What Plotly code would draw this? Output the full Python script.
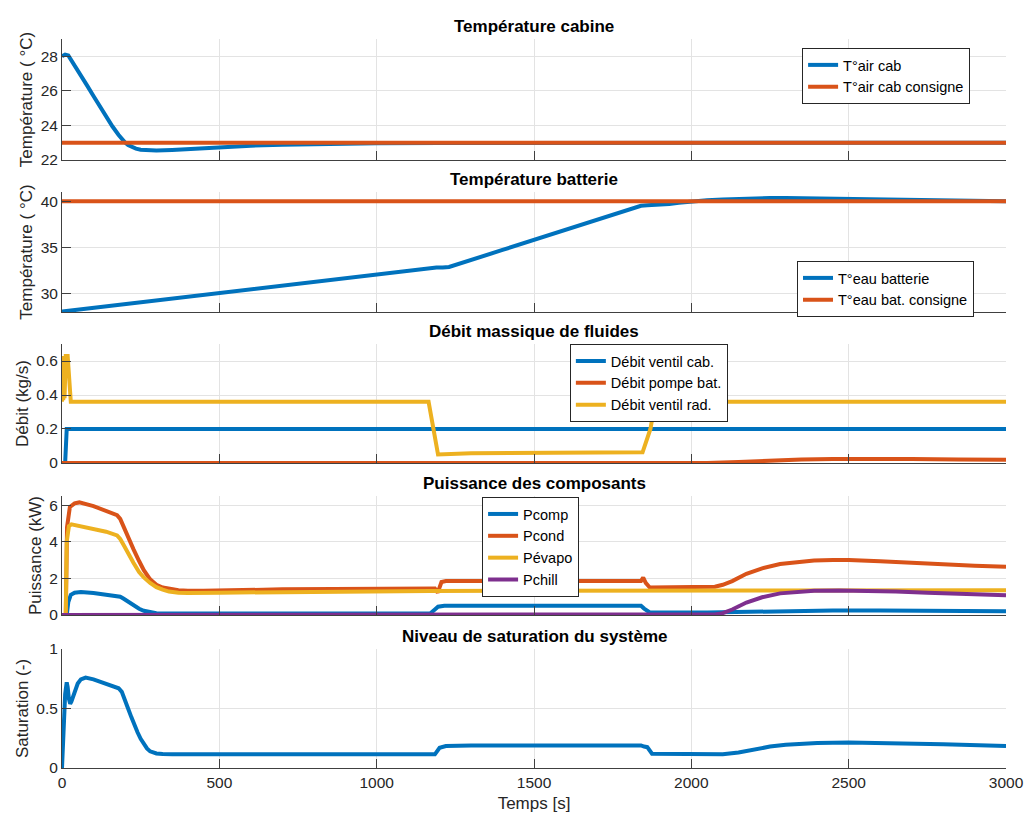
import plotly.graph_objects as go

# ---------------- DATA ----------------
# Panel 1 : Température cabine
t_cab = [0, 10, 20, 40, 60, 80, 100, 120, 140, 160, 180, 190, 200, 210, 220, 235, 250, 270, 300, 350, 400, 500, 600, 700, 800, 1000, 1200, 1500, 2000, 2500, 3000]
T_cab = [28.0, 28.1, 28.05, 27.5, 26.9, 26.3, 25.7, 25.1, 24.5, 23.95, 23.45, 23.22, 23.02, 22.87, 22.76, 22.66, 22.6, 22.56, 22.55, 22.58, 22.64, 22.75, 22.83, 22.89, 22.93, 22.97, 22.99, 23.0, 23.0, 23.0, 23.0]
t_cab_cons = [0, 3000]
T_cab_cons = [23.0, 23.0]

# Panel 2 : Température batterie
t_bat = [0, 500, 1000, 1170, 1190, 1210, 1230, 1400, 1600, 1800, 1840, 1860, 1900, 1930, 1960, 2000, 2050, 2100, 2150, 2200, 2250, 2300, 2400, 2500, 2600, 2700, 2800, 3000]
T_bat = [28.0, 30.05, 32.1, 32.75, 32.8, 32.78, 32.85, 34.7, 36.9, 39.1, 39.5, 39.55, 39.6, 39.7, 39.83, 39.97, 40.1, 40.2, 40.27, 40.32, 40.35, 40.35, 40.3, 40.2, 40.12, 40.06, 40.03, 40.0]
t_bat_cons = [0, 3000]
T_bat_cons = [40.0, 40.0]

# Panel 3 : Débit massique
t_vcab = [0, 10, 15, 3000]
q_vcab = [0, 0, 0.2, 0.2]
t_pompe = [0, 2050, 2150, 2250, 2350, 2450, 2550, 2700, 2850, 3000]
q_pompe = [0, 0, 0.006, 0.014, 0.02, 0.024, 0.025, 0.023, 0.021, 0.019]
t_vrad = [0, 2, 4, 6, 8, 10, 12, 18, 28, 1165, 1195, 1300, 1500, 1700, 1845, 1870, 1885, 3000]
q_vrad = [0.36, 0.63, 0.37, 0.63, 0.38, 0.63, 0.63, 0.63, 0.36, 0.36, 0.05, 0.058, 0.06, 0.062, 0.063, 0.2, 0.36, 0.36]

# Panel 4 : Puissance
t_pcomp = [0, 15, 20, 28, 40, 60, 100, 140, 175, 185, 195, 210, 227, 245, 260, 280, 300, 330, 400, 1170, 1185, 1195, 1215, 1500, 1840, 1850, 1868, 2050, 2100, 2200, 2300, 2450, 2600, 2800, 3000]
p_comp = [0, 0, 0.7, 1.1, 1.22, 1.25, 1.2, 1.12, 1.05, 1.0, 0.9, 0.72, 0.52, 0.34, 0.23, 0.14, 0.1, 0.085, 0.08, 0.08, 0.3, 0.45, 0.5, 0.5, 0.5, 0.35, 0.14, 0.13, 0.15, 0.2, 0.23, 0.25, 0.245, 0.225, 0.2]
t_pcond = [0, 12, 16, 25, 40, 55, 100, 140, 175, 185, 195, 210, 227, 245, 260, 280, 300, 320, 340, 370, 400, 450, 700, 900, 1170, 1185, 1194, 1206, 1220, 1500, 1840, 1847, 1855, 1868, 1900, 2050, 2075, 2100, 2130, 2175, 2225, 2282, 2335, 2390, 2450, 2500, 2600, 2700, 2810, 2900, 3000]
p_cond = [0, 0, 4.8, 5.9, 6.1, 6.15, 5.95, 5.7, 5.45, 5.25, 4.85, 4.2, 3.6, 2.95, 2.45, 1.95, 1.65, 1.5, 1.42, 1.35, 1.32, 1.32, 1.4, 1.43, 1.45, 1.45, 1.22, 1.8, 1.85, 1.85, 1.85, 2.05, 1.75, 1.5, 1.5, 1.5, 1.54, 1.65, 1.85, 2.25, 2.55, 2.78, 2.9, 2.97, 3.0, 3.0, 2.93, 2.84, 2.75, 2.69, 2.63]
t_pevap = [0, 12, 15, 22, 30, 60, 100, 140, 175, 185, 195, 210, 227, 245, 260, 280, 300, 320, 340, 370, 400, 500, 700, 900, 1170, 1500, 2000, 2500, 3000]
p_evap = [0, 0, 4.0, 4.85, 4.95, 4.85, 4.7, 4.55, 4.35, 4.15, 3.85, 3.35, 2.85, 2.35, 2.05, 1.75, 1.52, 1.38, 1.28, 1.22, 1.2, 1.22, 1.26, 1.29, 1.31, 1.33, 1.34, 1.35, 1.35]
t_pchill = [0, 2050, 2075, 2100, 2130, 2175, 2225, 2282, 2335, 2390, 2470, 2550, 2650, 2750, 2850, 3000]
p_chill = [0, 0, 0.03, 0.1, 0.3, 0.68, 0.97, 1.18, 1.27, 1.32, 1.34, 1.33, 1.28, 1.22, 1.15, 1.08]

# Panel 5 : Saturation
t_sat = [0, 5, 10, 15, 18, 22, 26, 30, 40, 50, 60, 75, 100, 140, 180, 190, 200, 210, 220, 230, 240, 250, 260, 270, 280, 290, 300, 320, 350, 500, 1000, 1185, 1200, 1220, 1300, 1500, 1800, 1840, 1850, 1860, 1875, 2000, 2100, 2150, 2200, 2250, 2300, 2400, 2500, 2600, 2800, 3000]
sat = [0, 0.3, 0.62, 0.72, 0.68, 0.58, 0.54, 0.56, 0.65, 0.71, 0.745, 0.76, 0.745, 0.71, 0.67, 0.64, 0.58, 0.5, 0.43, 0.36, 0.3, 0.245, 0.2, 0.165, 0.14, 0.13, 0.122, 0.117, 0.115, 0.115, 0.115, 0.115, 0.17, 0.185, 0.19, 0.19, 0.19, 0.19, 0.18, 0.175, 0.12, 0.115, 0.115, 0.13, 0.155, 0.18, 0.195, 0.21, 0.215, 0.212, 0.2, 0.185]

x_ticks = [0, 500, 1000, 1500, 2000, 2500, 3000]

titles = ["Température cabine", "Température batterie", "Débit massique de fluides",
          "Puissance des composants", "Niveau de saturation du système"]
ylabels = ["Température ( °C)", "Température ( °C)", "Débit (kg/s)", "Puissance (kW)", "Saturation (-)"]

# ---------------- STYLE ----------------
C1, C2, C3, C4 = "#0072BD", "#D95319", "#EDB120", "#7E2F8E"
LW = 4
FONT = "Liberation Sans, Arial, Helvetica, sans-serif"
TXT = "#262626"

# domains (paper fractions, bottom to top)
domains = [(0.834, 1.0), (0.6255, 0.7901), (0.4184, 0.5816), (0.2099, 0.3731), (0.0, 0.1632)]
yranges = [[22, 29], [27.95, 41], [0, 0.7], [0, 6.5], [0, 1]]
ytickvals = [[22, 24, 26, 28], [30, 35, 40], [0, 0.2, 0.4, 0.6], [0, 2, 4, 6], [0, 0.5, 1]]
yticktext = [["22", "24", "26", "28"], ["30", "35", "40"], ["0", "0.2", "0.4", "0.6"], ["0", "2", "4", "6"], ["0", "0.5", "1"]]

fig = go.Figure()

def add(x, y, name, color, panel, legend, show=True):
    ax = "" if panel == 1 else str(panel)
    fig.add_trace(go.Scatter(x=x, y=y, name=name, mode="lines",
                             line=dict(color=color, width=LW),
                             xaxis="x" + ax, yaxis="y" + ax,
                             legend=legend, showlegend=show))

add(t_cab, T_cab, "T°air cab", C1, 1, "legend")
add(t_cab_cons, T_cab_cons, "T°air cab consigne", C2, 1, "legend")
add(t_bat, T_bat, "T°eau batterie", C1, 2, "legend2")
add(t_bat_cons, T_bat_cons, "T°eau bat. consigne", C2, 2, "legend2")
add(t_vcab, q_vcab, "Débit ventil cab.", C1, 3, "legend3")
add(t_pompe, q_pompe, "Débit pompe bat.", C2, 3, "legend3")
add(t_vrad, q_vrad, "Débit ventil rad.", C3, 3, "legend3")
add(t_pcomp, p_comp, "Pcomp", C1, 4, "legend4")
add(t_pcond, p_cond, "Pcond", C2, 4, "legend4")
add(t_pevap, p_evap, "Pévapo", C3, 4, "legend4")
add(t_pchill, p_chill, "Pchill", C4, 4, "legend4")
add(t_sat, sat, "Saturation", C1, 5, "legend", show=False)

layout = dict(
    width=1024, height=817,
    margin=dict(l=62, r=18, t=39, b=49),
    paper_bgcolor="white", plot_bgcolor="white",
    font=dict(family=FONT, size=15, color=TXT),
    showlegend=True,
)

for i in range(5):
    n = i + 1
    ax = "" if n == 1 else str(n)
    layout["xaxis" + ax] = dict(
        domain=[0, 1], anchor="y" + ax, range=[0, 3000],
        tickvals=x_ticks, showticklabels=(n == 5),
        ticks="inside", ticklen=9, tickcolor="#404040", tickwidth=1,
        showline=True, linecolor="#404040", linewidth=1,
        showgrid=True, gridcolor="#e3e3e3", gridwidth=1,
        zeroline=False, automargin=False,
        tickfont=dict(size=15.5, color=TXT),
        title=dict(text="Temps [s]", font=dict(size=17, color=TXT), standoff=7) if n == 5 else None,
    )
    layout["yaxis" + ax] = dict(
        domain=list(domains[i]), anchor="x" + ax, range=yranges[i],
        tickvals=ytickvals[i], ticktext=yticktext[i],
        ticks="inside", ticklen=9, tickcolor="#404040", tickwidth=1,
        showline=True, linecolor="#404040", linewidth=1,
        showgrid=True, gridcolor="#e3e3e3", gridwidth=1,
        zeroline=False, automargin=False,
        tickfont=dict(size=15.5, color=TXT),
        title=dict(text=ylabels[i], font=dict(size=17, color=TXT), standoff=3),
    )

leg_common = dict(bgcolor="white", bordercolor="#262626", borderwidth=1,
                  font=dict(size=14.5, color="#000000", family=FONT),
                  xanchor="left", yanchor="top", tracegroupgap=0,
                  itemwidth=30)
layout["legend"] = dict(x=0.784, y=0.9877, **leg_common)
layout["legend2"] = dict(x=0.7786, y=0.6955, **leg_common)
layout["legend3"] = dict(x=0.538, y=0.5816, **leg_common)
layout["legend4"] = dict(x=0.445, y=0.3717, **leg_common)

annotations = []
for i in range(5):
    annotations.append(dict(
        text="<b>" + titles[i] + "</b>", xref="paper", yref="paper",
        x=0.5, y=domains[i][1], xanchor="center", yanchor="bottom",
        yshift=1, showarrow=False, font=dict(size=17, color="#000000", family=FONT)))
layout["annotations"] = annotations

fig.update_layout(**layout)
fig.write_html("out.html", config={"displayModeBar": False},
               post_script="document.body.style.margin='0';")
